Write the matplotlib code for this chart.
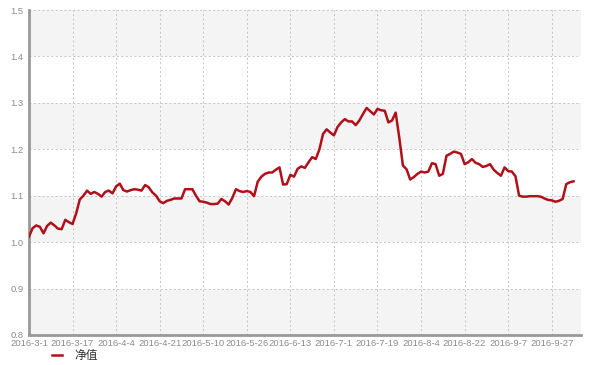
import numpy as np
import matplotlib
matplotlib.use('Agg')
import matplotlib.pyplot as plt
from matplotlib.lines import Line2D

plt.rcParams['font.family'] = ['Liberation Sans', 'Noto Sans CJK SC', 'DejaVu Sans']

# ---- данные ----
tick_labels = ['2016-3-1', '2016-3-17', '2016-4-4', '2016-4-21', '2016-5-10',
               '2016-5-26', '2016-6-13', '2016-7-1', '2016-7-19', '2016-8-4',
               '2016-8-22', '2016-9-7', '2016-9-27']
tick_step = 12

nav = [1.012, 1.030, 1.036, 1.033, 1.019, 1.035, 1.042, 1.036, 1.029, 1.028,
       1.048, 1.043, 1.039, 1.062, 1.092, 1.100, 1.111, 1.104, 1.108, 1.104,
       1.098, 1.108, 1.111, 1.105, 1.120, 1.126, 1.112, 1.109, 1.112, 1.114,
       1.113, 1.111, 1.123, 1.118, 1.107, 1.100, 1.088, 1.084, 1.089, 1.091,
       1.094, 1.094, 1.094, 1.114, 1.114, 1.114, 1.100, 1.088, 1.087, 1.085,
       1.082, 1.082, 1.083, 1.093, 1.088, 1.081, 1.095, 1.114, 1.110, 1.108,
       1.110, 1.108, 1.099, 1.130, 1.141, 1.147, 1.150, 1.150, 1.156, 1.161,
       1.124, 1.125, 1.145, 1.141, 1.158, 1.163, 1.160, 1.172, 1.183, 1.179,
       1.200, 1.233, 1.243, 1.236, 1.230, 1.248, 1.258, 1.265, 1.260, 1.260,
       1.252, 1.262, 1.276, 1.289, 1.282, 1.275, 1.287, 1.284, 1.283, 1.258,
       1.262, 1.279, 1.225, 1.165, 1.157, 1.135, 1.140, 1.147, 1.152, 1.150,
       1.152, 1.170, 1.168, 1.143, 1.147, 1.186, 1.190, 1.195, 1.193, 1.190,
       1.168, 1.172, 1.179, 1.171, 1.168, 1.162, 1.164, 1.168, 1.156, 1.149,
       1.143, 1.161, 1.153, 1.152, 1.142, 1.100, 1.098, 1.098, 1.099, 1.099,
       1.099, 1.098, 1.094, 1.091, 1.090, 1.087, 1.089, 1.093, 1.125, 1.129,
       1.131]

y_ticks = [0.8, 0.9, 1.0, 1.1, 1.2, 1.3, 1.4, 1.5]
series_name = '净值'
line_color = '#b0101a'

# ---- график ----
fig = plt.figure(figsize=(6, 3.65), dpi=100)
ax = fig.add_axes([0.0483, 0.0822, 0.9197, 0.8904])

x = np.arange(len(nav))
xmax = 152

# чередующиеся полосы фона
for i in range(len(y_ticks) - 1):
    if (len(y_ticks) - 2 - i) % 2 == 0:
        ax.axhspan(y_ticks[i], y_ticks[i + 1], color='#f4f4f4', zorder=0, lw=0)

ax.plot(x, nav, color=line_color, lw=1.8, zorder=3)

ax.set_xlim(0, xmax)
ax.set_ylim(0.8, 1.5)

# сетка
grid_kw = dict(color='#c4c4c4', lw=0.7, ls=(0, (2, 2.5)), zorder=1)
for yv in y_ticks[1:]:
    ax.axhline(yv, **grid_kw)
xt = [i * tick_step for i in range(len(tick_labels))]
for xv in xt[1:] + [xmax]:
    ax.axvline(xv, **grid_kw)

ax.set_xticks(xt)
ax.set_xticklabels(tick_labels)
ax.set_yticks(y_ticks)
ax.set_yticklabels(['%.1f' % v for v in y_ticks])
ax.tick_params(axis='both', length=0, labelsize=6.8, colors='#8c8c8c')
ax.tick_params(axis='x', pad=3)
ax.tick_params(axis='y', pad=4)

for s in ['top', 'right']:
    ax.spines[s].set_visible(False)
for s in ['left', 'bottom']:
    ax.spines[s].set_color('#999999')
    ax.spines[s].set_linewidth(2)

# легенда вручную (ключ + подпись)
ly = 1 - 355 / 365
fig.add_artist(Line2D([52 / 600, 62 / 600], [ly, ly], color=line_color, lw=1.8,
                      transform=fig.transFigure))
fig.text(74 / 600, ly, series_name, va='center', ha='left', fontsize=8.5,
         color='#333333', family=['Noto Sans CJK SC', 'DejaVu Sans'])

fig.savefig('out.png', dpi=100)
